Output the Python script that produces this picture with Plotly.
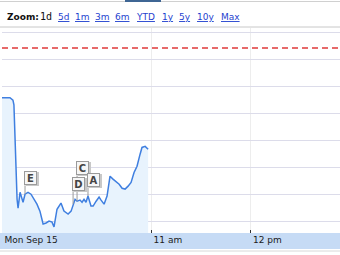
import pandas as pd
import plotly.graph_objects as go

# ---- data ----
session_start = "2008-09-15 09:30"
minutes = [0, 4.8, 6.6, 7.2, 9.1, 9.7, 10.9, 12.7, 13.9, 15.7, 17.5, 19.3, 21.1, 22.9,
           24.8, 26.6, 28.4, 30.2, 31.4, 33.2, 35.6, 37.4, 39.9, 41.7, 42.9, 44.1, 45.3,
           47.1, 48.3, 49.5, 50.7, 51.9, 53.7, 55.0, 56.8, 58.6, 59.8, 61.6, 63.4, 65.2,
           67.0, 68.8, 70.7, 72.5, 74.3, 76.1, 77.9, 79.7, 81.5, 83.3, 84.5, 86.4, 88.2]
prices = [25.59, 25.59, 25.50, 25.33, 21.81, 21.48, 22.07, 21.70, 22.00, 22.07, 22.00,
          21.81, 21.63, 21.37, 20.89, 20.93, 21.00, 20.96, 20.78, 21.44, 21.67, 21.37,
          21.26, 21.37, 21.63, 21.81, 21.74, 21.78, 21.70, 21.81, 21.70, 21.93, 21.56,
          21.56, 21.74, 21.89, 21.78, 21.63, 21.93, 22.67, 22.56, 22.48, 22.37, 22.22,
          22.19, 22.30, 22.44, 22.81, 23.04, 23.48, 23.74, 23.78, 23.67]
prev_close = 27.44

flag_letters = ["E", "C", "D", "A"]
flag_index = [8, 26, 24, 31]
flag_top = [22.33, 22.70, 22.11, 22.26]

tick_times = ["2008-09-15 09:30", "2008-09-15 11:00", "2008-09-15 12:00"]
tick_labels = ["Mon Sep 15", "11 am", "12 pm"]
zoom_links = ["5d", "1m", "3m", "6m", "YTD", "1y", "5y", "10y", "Max"]

# ---- build ----
t0 = pd.Timestamp(session_start)
times = [t0 + pd.to_timedelta(m, unit="min") for m in minutes]
x_end = t0 + pd.to_timedelta(204, unit="min")

W, H = 340, 255
L, R, T, B = 2, 0, 28, 22
pw, ph = W - L - R, H - T - B


def px_x(p):
    return (p - L) / pw


def px_y(p):
    return (H - B - p) / ph


fig = go.Figure()
fig.add_trace(go.Scatter(x=times, y=prices, mode="lines", fill="tozeroy",
                         fillcolor="#e8f3fd", line=dict(color="#3f7fe0", width=1.5),
                         hoverinfo="skip"))

annotations = []
for letter, idx, top in zip(flag_letters, flag_index, flag_top):
    fig.add_trace(go.Scatter(x=[times[idx], times[idx]], y=[prices[idx], top],
                             mode="lines", line=dict(color="#9a9a9a", width=1),
                             hoverinfo="skip"))
    # soft shadow
    annotations.append(dict(x=times[idx], y=top, xref="x", yref="y", text=" ",
                            showarrow=False, xanchor="left", yanchor="bottom",
                            bgcolor="#c8c8c8", borderwidth=0, borderpad=1,
                            width=11, height=12, xshift=1, yshift=-1))
    annotations.append(dict(x=times[idx], y=top, xref="x", yref="y", text="<b>%s</b>" % letter,
                            showarrow=False, xanchor="left", yanchor="bottom",
                            font=dict(family="DejaVu Sans", size=10, color="#444"),
                            bgcolor="#f6f6f6", bordercolor="#9a9a9a", borderwidth=1,
                            borderpad=1, width=9, height=10, xshift=-1))

# header texts
hdr_y = px_y(17)
annotations.append(dict(x=px_x(5), y=hdr_y, xref="paper", yref="paper", showarrow=False,
                        xanchor="left", yanchor="middle", text="<b>Zoom:</b>",
                        font=dict(family="DejaVu Sans", size=9, color="#111")))
annotations.append(dict(x=px_x(38), y=hdr_y, xref="paper", yref="paper", showarrow=False,
                        xanchor="left", yanchor="middle", text="1d",
                        font=dict(family="DejaVu Sans Mono", size=10, color="#111")))
link_px = [56, 73, 93, 113, 134, 160, 177, 195, 219]
for lab, p in zip(zoom_links, link_px):
    annotations.append(dict(x=px_x(p), y=hdr_y, xref="paper", yref="paper", showarrow=False,
                            xanchor="left", yanchor="middle", text="<u>%s</u>" % lab,
                            font=dict(family="DejaVu Sans", size=9, color="#1f3fcf")))

shapes = [
    # bottom band
    dict(type="rect", xref="paper", yref="paper", x0=px_x(0), x1=px_x(W),
         y0=px_y(249), y1=px_y(233), fillcolor="#c6dbf5", line=dict(width=0), layer="below"),
    dict(type="line", xref="paper", yref="paper", x0=px_x(0), x1=px_x(W),
         y0=px_y(251), y1=px_y(251), line=dict(color="#d8d8d8", width=1)),
    # top border of plot
    dict(type="line", xref="paper", yref="paper", x0=px_x(0), x1=px_x(W),
         y0=px_y(27), y1=px_y(27), line=dict(color="#c8c8c8", width=1)),
    # header top line and tab
    dict(type="line", xref="paper", yref="paper", x0=px_x(0), x1=px_x(W),
         y0=px_y(1.5), y1=px_y(1.5), line=dict(color="#d0d0d0", width=1)),
    dict(type="rect", xref="paper", yref="paper", x0=px_x(125), x1=px_x(161),
         y0=px_y(2), y1=px_y(0), fillcolor="#3f6694", line=dict(width=0)),
    # previous close
    dict(type="line", xref="paper", yref="y", x0=0, x1=1, y0=prev_close, y1=prev_close,
         line=dict(color="#e03a3a", width=1.5, dash="6px,4px")),
]

fig.update_layout(
    width=W, height=H, margin=dict(l=L, r=R, t=T, b=B, pad=0),
    paper_bgcolor="white", plot_bgcolor="white", showlegend=False,
    annotations=annotations, shapes=shapes,
    xaxis=dict(range=[t0, x_end], tickvals=[pd.Timestamp(t) for t in tick_times],
               ticktext=tick_labels, ticks="inside", ticklen=3, tickcolor="#333",
               ticklabelposition="outside right", ticklabelshift=2,
               showgrid=True, gridcolor="#ededed",
               gridwidth=1, zeroline=False, showline=False,
               tickfont=dict(family="DejaVu Sans", size=9, color="#1a1a1a")),
    yaxis=dict(range=[20.556, 28.185], dtick=1, tick0=0, showticklabels=False,
               showgrid=True, gridcolor="#dcdcea", gridwidth=1, zeroline=False,
               showline=False, ticks=""),
)

fig.write_html("out.html")
